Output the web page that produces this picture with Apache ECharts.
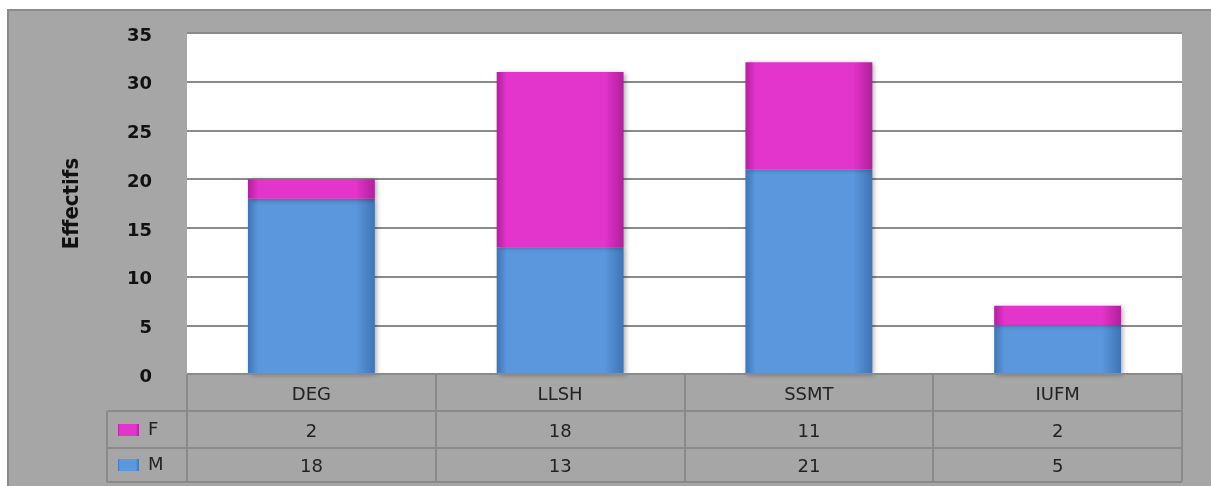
<!DOCTYPE html>
<html>
<head>
<meta charset="utf-8">
<script src="https://cdn.jsdelivr.net/npm/echarts@6/dist/echarts.min.js"></script>
<style>
  html, body { margin: 0; padding: 0; background: #fff; }
  #chart { width: 1211px; height: 486px; }
</style>
</head>
<body>
<div id="chart"></div>
<script>
var categories = ['DEG', 'LLSH', 'SSMT', 'IUFM'];
var mValues = [18, 13, 21, 5];
var fValues = [2, 18, 11, 2];
var yTicks = [0, 5, 10, 15, 20, 25, 30, 35];

var chart = echarts.init(document.getElementById('chart'));

// plot area box
var plotL = 187, plotR = 1182, plotT = 33, plotB = 374;
var colW = (plotR - plotL) / categories.length;
var rowY = [374, 411, 448, 482];
var lineColor = '#8a8a8a';

function grad(base, dark) {
  return new echarts.graphic.LinearGradient(0, 0, 1, 0, [
    { offset: 0, color: dark },
    { offset: 0.08, color: base },
    { offset: 0.85, color: base },
    { offset: 1, color: dark }
  ]);
}
var blue = grad('#5b97dd', '#3f74b5');
var pink = grad('#e334cc', '#b0209c');

// outer frame + table lines
var graphics = [
  { type: 'rect', z: -100, shape: { x: 8, y: 10, width: 1215, height: 490 },
    style: { fill: '#a6a6a6', stroke: lineColor, lineWidth: 2 } }
];
function hline(x1, x2, y) {
  graphics.push({ type: 'line', z: 50, shape: { x1: x1, y1: y, x2: x2, y2: y },
    style: { stroke: lineColor, lineWidth: 2 } });
}
function vline(x, y1, y2) {
  graphics.push({ type: 'line', z: 50, shape: { x1: x, y1: y1, x2: x, y2: y2 },
    style: { stroke: lineColor, lineWidth: 2 } });
}
hline(plotL, plotR, rowY[0]);
hline(107, plotR, rowY[1]);
hline(107, plotR, rowY[2]);
hline(107, plotR, rowY[3]);
vline(107, rowY[1], rowY[3]);
for (var k = 0; k <= categories.length; k++) {
  vline(Math.round(plotL + colW * k), rowY[0], rowY[3]);
}

var tableLabel = { fontSize: 18, color: '#222', fontFamily: 'DejaVu Sans', margin: 12 };
var legendText = { fontSize: 18, color: '#222', fontFamily: 'DejaVu Sans', padding: [0, 0, 0, 4] };

var option = {
  backgroundColor: '#fff',
  animation: false,
  grid: {
    left: plotL, right: 1211 - plotR, top: plotT, bottom: 486 - plotB,
    show: true, backgroundColor: '#fff', borderWidth: 0
  },
  legend: [
    { data: ['F'], left: 113, top: 416, itemWidth: 21, itemHeight: 12, icon: 'rect',
      selectedMode: false, textStyle: legendText },
    { data: ['M'], left: 113, top: 451, itemWidth: 21, itemHeight: 12, icon: 'rect',
      selectedMode: false, textStyle: legendText }
  ],
  xAxis: [
    { type: 'category', data: categories, position: 'bottom',
      axisLine: { show: false }, axisTick: { show: false }, splitLine: { show: false },
      axisLabel: tableLabel },
    { type: 'category', data: fValues.map(String), position: 'bottom', offset: 37,
      axisLine: { show: false }, axisTick: { show: false }, splitLine: { show: false },
      axisLabel: tableLabel },
    { type: 'category', data: mValues.map(String), position: 'bottom', offset: 72,
      axisLine: { show: false }, axisTick: { show: false }, splitLine: { show: false },
      axisLabel: tableLabel }
  ],
  yAxis: {
    type: 'value',
    min: yTicks[0], max: yTicks[yTicks.length - 1], interval: 5,
    name: 'Effectifs', nameLocation: 'middle', nameRotate: 90, nameGap: 104,
    nameTextStyle: { fontSize: 22, fontWeight: 'bold', color: '#111',
      fontFamily: "'Liberation Sans Narrow', 'DejaVu Sans Condensed', sans-serif" },
    axisLine: { show: false }, axisTick: { show: false },
    axisLabel: {
      margin: 35,
      formatter: function (v) { return '{t|' + v + '}'; },
      rich: { t: { fontSize: 18, fontWeight: 'bold', color: '#111', fontFamily: 'DejaVu Sans',
        padding: [6, 0, 0, 0] } }
    },
    splitLine: { lineStyle: { color: lineColor, width: 2 } }
  },
  series: [
    { name: 'M', type: 'bar', stack: 'total', data: mValues, barCategoryGap: '49%',
      itemStyle: { color: blue, shadowBlur: 5, shadowOffsetX: 2, shadowOffsetY: 1,
        shadowColor: 'rgba(0,0,0,0.35)' } },
    { name: 'F', type: 'bar', stack: 'total', data: fValues, barCategoryGap: '49%',
      itemStyle: { color: pink, shadowBlur: 5, shadowOffsetX: 2, shadowOffsetY: 1,
        shadowColor: 'rgba(0,0,0,0.35)' } }
  ],
  graphic: graphics
};
chart.setOption(option);
</script>
</body>
</html>
